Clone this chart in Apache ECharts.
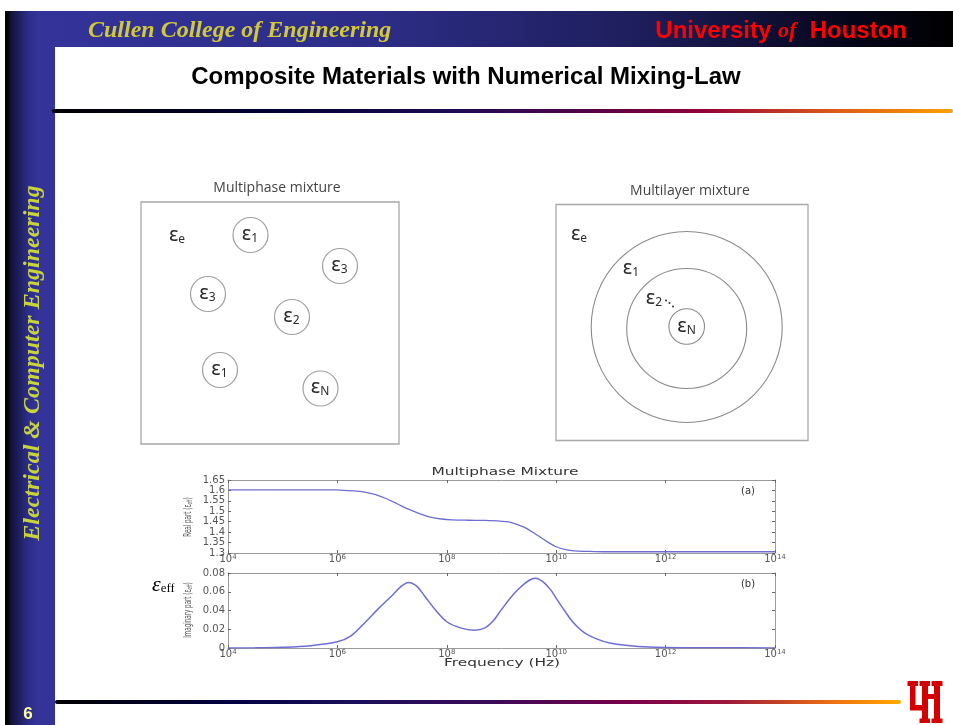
<!DOCTYPE html>
<html><head><meta charset="utf-8">
<script src="https://cdn.jsdelivr.net/npm/echarts@6/dist/echarts.min.js"></script>
<style>html,body{margin:0;padding:0;background:#fff;}#c{width:953px;height:725px;}</style>
</head><body><div id="c"></div>
<script>
// ---- data (frequency given as log10 of Hz) ----
const realFreqExp = [4, 5, 6, 6.1, 6.3, 6.5, 6.7, 6.9, 7.1, 7.3, 7.5, 7.7, 7.9, 8.1, 8.4, 8.7, 9.0, 9.2, 9.4, 9.6, 9.8, 10.0, 10.2, 10.4, 10.7, 11, 12, 13, 14];
const realPart    = [1.603, 1.603, 1.603, 1.600, 1.598, 1.592, 1.580, 1.560, 1.535, 1.510, 1.489, 1.472, 1.463, 1.459, 1.457, 1.456, 1.452, 1.445, 1.425, 1.395, 1.360, 1.330, 1.315, 1.309, 1.307, 1.306, 1.306, 1.306, 1.306];
const imagFreqExp = [4, 4.5, 5, 5.5, 6, 6.25, 6.5, 6.75, 7.0, 7.15, 7.3, 7.45, 7.6, 7.8, 8.0, 8.25, 8.5, 8.7, 8.85, 9.0, 9.2, 9.35, 9.5, 9.62, 9.75, 9.9, 10.0, 10.15, 10.3, 10.5, 10.75, 11.0, 11.5, 12, 13, 14];
const imagPart    = [0.0001, 0.0002, 0.0008, 0.0025, 0.0067, 0.013, 0.027, 0.042, 0.056, 0.065, 0.070, 0.066, 0.055, 0.040, 0.028, 0.0215, 0.019, 0.0215, 0.029, 0.041, 0.056, 0.065, 0.072, 0.0745, 0.071, 0.062, 0.053, 0.040, 0.028, 0.017, 0.0095, 0.005, 0.0015, 0.0005, 0.0002, 0.0001];
const xTickExps = [4, 6, 8, 10, 12, 14];
const realTicks = [1.3, 1.35, 1.4, 1.45, 1.5, 1.55, 1.6, 1.65];
const imagTicks = [0, 0.02, 0.04, 0.06, 0.08];
const chartTitle = 'Multiphase Mixture';
const xName = 'Frequency (Hz)';
const slideTitle = 'Composite Materials with Numerical Mixing-Law';
const mixPhase = [['1', 250.5, 235], ['3', 340, 266], ['3', 208, 294], ['2', 292, 317], ['1', 220, 370], ['N', 320.5, 388.5]];

const chart = echarts.init(document.getElementById('c'));
const axisColor = '#9a9a9a';
const tickLabelFont = 'DejaVu Sans';

function xAxisCfg(gi, pos, showLabel) {
  return {
    gridIndex: gi, type: 'value', position: pos, min: xTickExps[0], max: xTickExps[xTickExps.length - 1], interval: 2,
    axisLine: { show: true, onZero: false, lineStyle: { color: axisColor, width: 1 } },
    axisTick: { show: true, inside: true, length: 3, lineStyle: { color: '#666' } },
    splitLine: { show: false },
    axisLabel: {
      show: showLabel, margin: 1,
      formatter: v => '{b|10}{s|' + Math.round(v) + '}',
      rich: {
        b: { fontSize: 10, fontFamily: tickLabelFont, color: '#555' },
        s: { fontSize: 7, fontFamily: tickLabelFont, color: '#555', padding: [0, 0, 4, 0] }
      }
    }
  };
}
function yAxisCfg(gi, pos, ticks, showLabel) {
  return {
    gridIndex: gi, type: 'value', position: pos, min: ticks[0], max: ticks[ticks.length - 1],
    interval: +(ticks[1] - ticks[0]).toFixed(4),
    axisLine: { show: true, onZero: false, lineStyle: { color: axisColor, width: 1 } },
    axisTick: { show: true, inside: true, length: 3, lineStyle: { color: '#666' } },
    splitLine: { show: false },
    axisLabel: { show: showLabel, margin: 3, fontSize: 10, fontFamily: tickLabelFont, color: '#555',
      formatter: v => String(+(+v).toFixed(2)) }
  };
}

function eps(cx, cy, sub) {
  return {
    type: 'text', x: cx, y: cy, z: 20,
    style: {
      text: '{e|ε}{s|' + sub + '}',
      textAlign: 'center', textVerticalAlign: 'middle',
      rich: {
        e: { fontSize: 20, fontFamily: 'Noto Sans', fill: '#2a2a2a' },
        s: { fontSize: 12, fontFamily: 'Noto Sans', fill: '#2a2a2a', padding: [9, 0, 0, 0] }
      }
    }
  };
}

const graphics = [];
// sidebar
graphics.push({ type: 'rect', z: 1, shape: { x: 5, y: 11, width: 50, height: 714 },
  style: { fill: new echarts.graphic.LinearGradient(0, 0, 1, 0, [
    { offset: 0, color: '#000000' }, { offset: 0.05, color: '#000000' }, { offset: 0.12, color: '#121238' },
    { offset: 0.45, color: '#2c2c88' }, { offset: 0.65, color: '#333399' }, { offset: 1, color: '#333399' }]) } });
// header bar
graphics.push({ type: 'rect', z: 1, shape: { x: 55, y: 11, width: 898, height: 36 },
  style: { fill: new echarts.graphic.LinearGradient(0, 0, 1, 0, [
    { offset: 0, color: '#333399' }, { offset: 0.35, color: '#2d2d88' }, { offset: 0.65, color: '#1e1e5c' },
    { offset: 0.88, color: '#06061c' }, { offset: 1, color: '#000000' }]) } });
// header texts
graphics.push({ type: 'text', z: 5, x: 88, y: 31, style: { text: 'Cullen College of Engineering', font: 'italic bold 24px "Liberation Serif"', fill: '#d2c93a', textAlign: 'left', textVerticalAlign: 'middle' } });
graphics.push({ type: 'text', z: 5, x: 907, y: 31, style: {
  text: '{a|University }{o|of}{a|  Houston}', textAlign: 'right', textVerticalAlign: 'middle',
  rich: { a: { fontSize: 24, fontWeight: 'bold', fontFamily: 'Liberation Sans', fill: '#ff0000' },
          o: { fontSize: 22, fontWeight: 'bold', fontStyle: 'italic', fontFamily: 'Liberation Serif', fill: '#ff0000' } } } });
// slide title
graphics.push({ type: 'text', z: 5, x: 466, y: 77, style: { text: slideTitle, font: 'bold 24px "Liberation Sans"', fill: '#000', textAlign: 'center', textVerticalAlign: 'middle' } });
// separator lines
graphics.push({ type: 'rect', z: 2, shape: { x: 52, y: 109, width: 901, height: 4, r: 2 },
  style: { fill: new echarts.graphic.LinearGradient(0, 0, 1, 0, [
    { offset: 0, color: '#000000' }, { offset: 0.25, color: '#000036' }, { offset: 0.45, color: '#1e0a55' },
    { offset: 0.6, color: '#550048' }, { offset: 0.72, color: '#920038' }, { offset: 0.86, color: '#d9551a' }, { offset: 1, color: '#ffa000' }]) } });
graphics.push({ type: 'rect', z: 2, shape: { x: 55, y: 700, width: 846, height: 4, r: 2 },
  style: { fill: new echarts.graphic.LinearGradient(0, 0, 1, 0, [
    { offset: 0, color: '#000000' }, { offset: 0.2, color: '#000040' }, { offset: 0.35, color: '#1a0f5c' },
    { offset: 0.52, color: '#3d0a58' }, { offset: 0.68, color: '#7a004a' }, { offset: 0.8, color: '#a01a3a' },
    { offset: 0.92, color: '#ee7010' }, { offset: 1, color: '#ffaa00' }]) } });
// sidebar text
graphics.push({ type: 'text', z: 5, x: 33, y: 363, rotation: Math.PI / 2,
  style: { text: 'Electrical & Computer Engineering', font: 'italic bold 24px "Liberation Serif"', fill: '#c8d43a', textAlign: 'center', textVerticalAlign: 'middle' } });
graphics.push({ type: 'text', z: 5, x: 28, y: 714, style: { text: '6', font: 'bold 17px "Liberation Sans"', fill: '#ffff99', textAlign: 'center', textVerticalAlign: 'middle' } });
// UH logo
const uh = '#d40000';
[[910, 681, 5.5, 29], [907.5, 681, 10.5, 5], [910, 705, 17.5, 5.5],
 [922, 681, 6, 42], [919.5, 681, 10.5, 5], [919.5, 718.5, 10.5, 4.5],
 [926, 694, 9, 5],
 [934, 681, 6, 42], [931.5, 681, 11, 5], [931.5, 718.5, 11, 4.5]].forEach(r => {
  graphics.push({ type: 'rect', z: 5, shape: { x: r[0], y: r[1], width: r[2], height: r[3] }, style: { fill: uh } });
});
// diagrams
graphics.push({ type: 'text', z: 5, x: 277, y: 188, style: { text: 'Multiphase mixture', font: '14px "Open Sans"', fill: '#444', textAlign: 'center', textVerticalAlign: 'middle' } });
graphics.push({ type: 'rect', z: 5, shape: { x: 141, y: 202, width: 258, height: 242 }, style: { fill: 'none', stroke: '#a8a8a8', lineWidth: 1.3 } });
graphics.push(eps(177, 235, 'e'));
mixPhase.forEach(p => {
  graphics.push({ type: 'circle', z: 5, shape: { cx: p[1], cy: p[2], r: 17.5 }, style: { fill: 'none', stroke: '#a0a0a0', lineWidth: 1.2 } });
  graphics.push(eps(p[1] - 0.5, p[2] - 1, p[0]));
});
graphics.push({ type: 'text', z: 5, x: 690, y: 191, style: { text: 'Multilayer mixture', font: '14px "Open Sans"', fill: '#444', textAlign: 'center', textVerticalAlign: 'middle' } });
graphics.push({ type: 'rect', z: 5, shape: { x: 556, y: 204.5, width: 252, height: 236 }, style: { fill: 'none', stroke: '#a8a8a8', lineWidth: 1.3 } });
[[686.7, 327, 95.5], [686.7, 328.5, 60], [686.7, 326.5, 17.8]].forEach(c => {
  graphics.push({ type: 'circle', z: 5, shape: { cx: c[0], cy: c[1], r: c[2] }, style: { fill: 'none', stroke: '#8a8a8a', lineWidth: 1.1 } });
});
graphics.push(eps(579, 234, 'e'));
graphics.push(eps(631, 268, '1'));
graphics.push(eps(654, 298, '2'));
[[666, 300.5], [669.5, 303], [673, 306.5]].forEach(d => graphics.push({ type: 'circle', z: 5, shape: { cx: d[0], cy: d[1], r: 1 }, style: { fill: '#333' } }));
graphics.push(eps(686.5, 326.5, 'N'));
// plot annotations
graphics.push({ type: 'text', z: 5, x: 505, y: 472, scaleX: 1.4, style: { text: chartTitle, font: '11px "DejaVu Sans"', fill: '#333', textAlign: 'center', textVerticalAlign: 'middle' } });
graphics.push({ type: 'text', z: 5, x: 502, y: 663, scaleX: 1.4, style: { text: xName, font: '11px "DejaVu Sans"', fill: '#333', textAlign: 'center', textVerticalAlign: 'middle' } });
graphics.push({ type: 'text', z: 5, x: 748, y: 491, style: { text: '(a)', font: '10px "DejaVu Sans"', fill: '#333', textAlign: 'center', textVerticalAlign: 'middle' } });
graphics.push({ type: 'text', z: 5, x: 748, y: 584, style: { text: '(b)', font: '10px "DejaVu Sans"', fill: '#333', textAlign: 'center', textVerticalAlign: 'middle' } });
function yName(x, y, main) {
  return { type: 'text', z: 5, x: x, y: y, rotation: Math.PI / 2, scaleX: 0.62,
    style: { text: '{a|' + main + ' (ε}{s|eff}{a|)}', textAlign: 'center', textVerticalAlign: 'middle',
      rich: { a: { fontSize: 10, fontFamily: 'DejaVu Sans Condensed', fill: '#555' },
              s: { fontSize: 7, fontFamily: 'DejaVu Sans Condensed', fill: '#555', padding: [5, 0, 0, 0] } } } };
}
graphics.push(yName(188, 517, 'Real part'));
graphics.push(yName(188, 610, 'Imaginary part'));
// epsilon_eff label at left
graphics.push({ type: 'text', z: 5, x: 152, y: 585, style: {
  text: '{e|ε}{s|eff}', textAlign: 'left', textVerticalAlign: 'middle',
  rich: { e: { fontSize: 22, fontStyle: 'italic', fontFamily: 'Liberation Serif', fill: '#000' },
          s: { fontSize: 13, fontFamily: 'Liberation Serif', fill: '#000', padding: [8, 0, 0, 0] } } } });
graphics.push({ type: 'rect', z: 6, shape: { x: 174.5, y: 578, width: 6, height: 18 }, style: { fill: '#fff' } });

const option = {
  animation: false,
  backgroundColor: '#ffffff',
  grid: [
    { left: 228, top: 480, width: 547, height: 73 },
    { left: 228, top: 573, width: 547, height: 75 }
  ],
  xAxis: [xAxisCfg(0, 'bottom', true), xAxisCfg(0, 'top', false), xAxisCfg(1, 'bottom', true), xAxisCfg(1, 'top', false)],
  yAxis: [yAxisCfg(0, 'left', realTicks, true), yAxisCfg(0, 'right', realTicks, false), yAxisCfg(1, 'left', imagTicks, true), yAxisCfg(1, 'right', imagTicks, false)],
  series: [
    { type: 'line', xAxisIndex: 0, yAxisIndex: 0, smooth: 0.35, showSymbol: false, z: 3,
      lineStyle: { color: '#6e6ed2', width: 1.3 }, data: realFreqExp.map((f, i) => [f, realPart[i]]) },
    { type: 'line', xAxisIndex: 2, yAxisIndex: 2, smooth: 0.35, showSymbol: false, z: 3,
      lineStyle: { color: '#6e6ed2', width: 1.5 }, data: imagFreqExp.map((f, i) => [f, imagPart[i]]) }
  ],
  graphic: { elements: graphics }
};
chart.setOption(option);
</script></body></html>
